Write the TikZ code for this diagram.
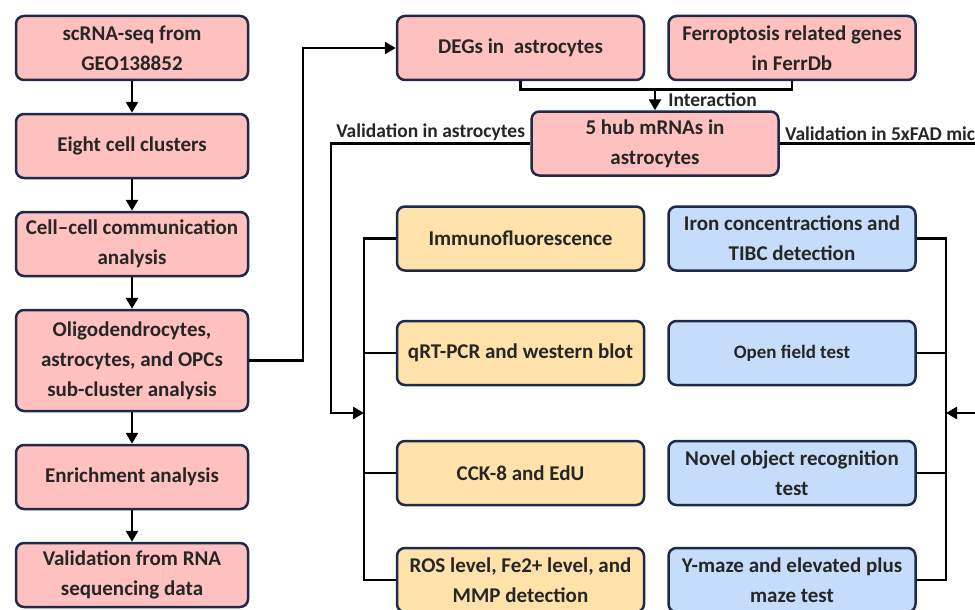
\documentclass[tikz,border=0pt]{standalone}
\usepackage{fontspec}
\setmainfont{Carlito}
\usetikzlibrary{positioning}
\usetikzlibrary{arrows.meta}
\definecolor{boxline}{HTML}{1E2A47}
\definecolor{pinkfill}{HTML}{FFC0C0}
\definecolor{orangefill}{HTML}{FFE2AA}
\definecolor{bluefill}{HTML}{C6DCFB}
\definecolor{txt}{HTML}{262626}

\begin{document}
\begin{tikzpicture}[
    x=1pt, y=-1pt,
    sbox/.style={draw=boxline, line width=2.5pt, rounded corners=8pt, inner sep=0, align=center,
        text=txt, minimum width=232pt, minimum height=64pt, font=\fontsize{21}{30}\selectfont\bfseries},
    pbox/.style={sbox, fill=pinkfill},
    wbox/.style={minimum width=247pt},
    obox/.style={sbox, wbox, fill=orangefill},
    bbox/.style={sbox, wbox, fill=bluefill},
    lbl/.style={inner sep=2pt, text=txt, font=\fontsize{19.5}{24}\selectfont\bfseries},
    cline/.style={line width=2.6pt, draw=black},
    dedge/.style={cline, -{Triangle[length=11pt, width=12pt]}}
]
\useasboundingbox (0,0) rectangle (975,610);
\clip (0,0) rectangle (975,610);

% scRNA-seq pipeline
\node[pbox] (scrna) at (132,48) {scRNA-seq from\\GEO138852};
\node[pbox, below=31.5pt of scrna] (clus) {Eight cell clusters};
\node[pbox, below=31.5pt of clus] (comm) {Cell--cell communication\\analysis};
\node[pbox, below=31.5pt of comm, minimum height=101pt] (sub) {Oligodendrocytes,\\astrocytes, and OPCs\\sub-cluster analysis};
\node[pbox, below=31.5pt of sub] (enr) {Enrichment analysis};
\node[pbox, below=31.5pt of enr] (rnaseq) {Validation from RNA\\sequencing data};
\draw[dedge] (scrna) -- (clus);
\draw[dedge] (clus) -- (comm);
\draw[dedge] (comm) -- (sub);
\draw[dedge] (sub) -- (enr);
\draw[dedge] (enr) -- (rnaseq);

% hub genes
\node[pbox, wbox] (degs) at (520.5,48) {DEGs in~ astrocytes};
\node[pbox, wbox, right=22pt of degs] (ferro) {Ferroptosis related genes\\in FerrDb};
\node[pbox, wbox] (hub) at (655,143.5) {5 hub mRNAs in\\astrocytes};
\coordinate (lx) at (303,0);
\draw[dedge] (sub.east) -- (sub.east -| lx) |- (degs.west);
\draw[cline] (degs.south) -- ++(0,8) coordinate (dj) -| (ferro.south);
\draw[dedge] (dj -| hub.north) -- node[lbl, right=10pt] (intl) {Interaction} (hub.north);

% validation in astrocytes
\node[obox] (imf) at (520.5,238.5) {Immunofluorescence};
\node[obox] (qpcr) at (520.5,353) {qRT-PCR and western blot};
\node[obox] (cck) at (520.5,473) {CCK-8 and EdU};
\node[obox] (ros) at (520.5,580) {ROS level, Fe2+ level, and\\MMP detection};
\coordinate (lv) at (331,0);
\coordinate (lb) at (364,413);
\draw[dedge] (hub.west) -- node[lbl, above] (astl) {Validation in astrocytes} (hub.west -| lv) |- (lb);
\draw[cline] (imf.west) -- (imf.west -| lb) -- (ros.west -| lb) -- (ros.west);
\draw[cline] (qpcr.west) -- (qpcr.west -| lb);
\draw[cline] (cck.west) -- (cck.west -| lb);

% validation in 5xFAD mice
\node[bbox, right=22pt of imf] (iron) {Iron concentractions and\\TIBC detection};
\node[bbox, right=22pt of qpcr, font=\fontsize{19}{30}\selectfont\bfseries] (oft) {Open field test};
\node[bbox, right=22pt of cck] (nor) {Novel object recognition\\test};
\node[bbox, right=22pt of ros] (ymaze) {Y-maze and elevated plus\\maze test};
\coordinate (rv) at (995,0);
\coordinate (rb) at (946,413);
\draw[dedge] (hub.east) -- node[lbl, pos=0, anchor=south west, xshift=2pt] (fadl) {Validation in 5xFAD mice} (hub.east -| rv) |- (rb);
\draw[cline] (iron.east) -- (iron.east -| rb) -- (ymaze.east -| rb) -- (ymaze.east);
\draw[cline] (oft.east) -- (oft.east -| rb);
\draw[cline] (nor.east) -- (nor.east -| rb);

\end{tikzpicture}
\end{document}
